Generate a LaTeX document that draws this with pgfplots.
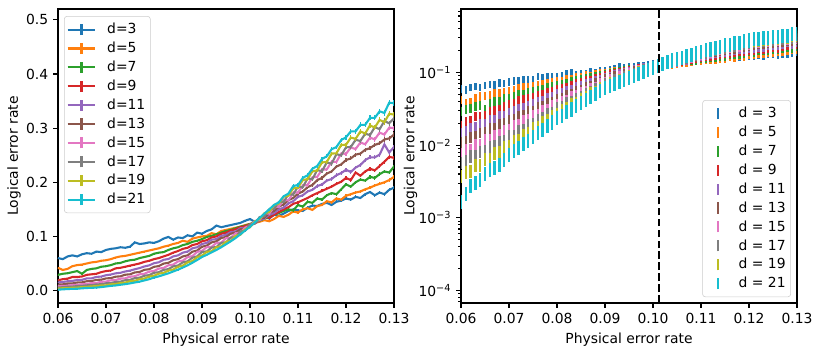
\documentclass[border=0pt]{standalone}
\usepackage{fontspec}
\setmainfont{DejaVu Sans}
\usepackage{pgfplots}
\usepackage{pgfplotstable}
\pgfplotsset{compat=1.18}

\definecolor{C0}{HTML}{1F77B4}
\definecolor{C1}{HTML}{FF7F0E}
\definecolor{C2}{HTML}{2CA02C}
\definecolor{C3}{HTML}{D62728}
\definecolor{C4}{HTML}{9467BD}
\definecolor{C5}{HTML}{8C564B}
\definecolor{C6}{HTML}{E377C2}
\definecolor{C7}{HTML}{7F7F7F}
\definecolor{C8}{HTML}{BCBD22}
\definecolor{C9}{HTML}{17BECF}

% logical error rate vs physical error rate, one column per distance d
\pgfplotstableread{
x     d3    d5    d7    d9    d11    d13    d15    d17    d19    d21
0.060 0.060 0.042 0.029 0.019 0.0150 0.0110 0.0078 0.0058 0.0038 0.0017
0.061 0.058 0.038 0.031 0.021 0.0158 0.0115 0.0087 0.0061 0.0043 0.0022
0.062 0.063 0.040 0.032 0.022 0.0172 0.0130 0.0088 0.0071 0.0044 0.0028
0.063 0.065 0.045 0.034 0.025 0.0178 0.0132 0.0103 0.0072 0.0053 0.0031
0.064 0.063 0.047 0.036 0.025 0.0195 0.0149 0.0104 0.0083 0.0054 0.0034
0.065 0.067 0.048 0.031 0.026 0.0198 0.0152 0.0119 0.0085 0.0064 0.0041
0.066 0.069 0.050 0.038 0.029 0.0224 0.0172 0.0121 0.0097 0.0066 0.0047
0.067 0.068 0.052 0.040 0.030 0.0226 0.0175 0.0138 0.0099 0.0078 0.0050
0.068 0.072 0.053 0.041 0.031 0.0252 0.0197 0.0141 0.0114 0.0080 0.0055
0.069 0.071 0.055 0.044 0.034 0.0258 0.0201 0.0162 0.0117 0.0094 0.0064
0.070 0.075 0.056 0.045 0.036 0.0283 0.0224 0.0166 0.0134 0.0097 0.0075
0.071 0.077 0.058 0.047 0.037 0.0296 0.0230 0.0189 0.0138 0.0115 0.0086
0.072 0.078 0.061 0.050 0.041 0.0318 0.0256 0.0194 0.0160 0.0119 0.0094
0.073 0.080 0.063 0.051 0.042 0.0328 0.0263 0.0221 0.0165 0.0140 0.0107
0.074 0.079 0.064 0.054 0.044 0.0352 0.0293 0.0226 0.0191 0.0147 0.0118
0.075 0.081 0.066 0.056 0.046 0.0368 0.0300 0.0257 0.0199 0.0172 0.0132
0.076 0.089 0.068 0.057 0.048 0.0393 0.0334 0.0265 0.0229 0.0180 0.0149
0.077 0.086 0.070 0.060 0.050 0.0415 0.0344 0.0300 0.0238 0.0210 0.0165
0.078 0.087 0.072 0.062 0.053 0.0445 0.0383 0.0310 0.0274 0.0222 0.0187
0.079 0.089 0.074 0.064 0.055 0.0465 0.0394 0.0350 0.0285 0.0258 0.0210
0.080 0.088 0.076 0.068 0.058 0.0505 0.0438 0.0362 0.0328 0.0274 0.0240
0.081 0.091 0.078 0.070 0.060 0.0522 0.0452 0.0405 0.0339 0.0312 0.0262
0.082 0.096 0.081 0.071 0.063 0.0568 0.0498 0.0418 0.0382 0.0325 0.0290
0.083 0.099 0.083 0.075 0.066 0.0582 0.0512 0.0466 0.0396 0.0370 0.0318
0.084 0.094 0.086 0.078 0.070 0.0630 0.0560 0.0480 0.0446 0.0387 0.0352
0.085 0.098 0.088 0.080 0.073 0.0650 0.0580 0.0537 0.0463 0.0439 0.0386
0.086 0.097 0.092 0.084 0.077 0.0700 0.0630 0.0553 0.0520 0.0460 0.0425
0.087 0.102 0.090 0.086 0.079 0.0720 0.0650 0.0617 0.0541 0.0521 0.0466
0.088 0.100 0.096 0.090 0.084 0.0780 0.0718 0.0637 0.0608 0.0545 0.0514
0.089 0.107 0.098 0.092 0.086 0.0800 0.0740 0.0714 0.0632 0.0618 0.0565
0.090 0.105 0.100 0.095 0.091 0.0860 0.0810 0.0735 0.0714 0.0647 0.0620
0.091 0.110 0.101 0.099 0.093 0.0880 0.0830 0.0802 0.0723 0.0714 0.0660
0.092 0.113 0.106 0.101 0.098 0.0940 0.0890 0.0808 0.0794 0.0727 0.0705
0.093 0.120 0.104 0.104 0.100 0.0950 0.0910 0.0880 0.0804 0.0802 0.0750
0.094 0.117 0.110 0.107 0.105 0.1010 0.0970 0.0887 0.0881 0.0816 0.0800
0.095 0.119 0.112 0.110 0.107 0.1030 0.0990 0.0967 0.0893 0.0901 0.0855
0.096 0.121 0.114 0.112 0.111 0.1080 0.1050 0.0974 0.0979 0.0917 0.0910
0.097 0.123 0.116 0.115 0.113 0.1090 0.1070 0.1060 0.0990 0.1012 0.0970
0.098 0.125 0.118 0.118 0.117 0.1150 0.1130 0.1068 0.1091 0.1029 0.1040
0.099 0.129 0.121 0.120 0.119 0.1160 0.1150 0.1163 0.1107 0.1132 0.1110
0.100 0.132 0.123 0.123 0.122 0.1220 0.1210 0.1188 0.1214 0.1168 0.1180
0.101 0.127 0.125 0.126 0.125 0.1240 0.1240 0.1285 0.1235 0.1275 0.1260
0.102 0.131 0.127 0.129 0.130 0.1300 0.1320 0.1304 0.1357 0.1317 0.1340
0.103 0.136 0.130 0.133 0.138 0.1330 0.1350 0.1418 0.1372 0.1428 0.1420
0.104 0.133 0.128 0.136 0.134 0.1400 0.1430 0.1421 0.1499 0.1450 0.1500
0.105 0.140 0.132 0.140 0.140 0.1430 0.1470 0.1540 0.1509 0.1581 0.1580
0.106 0.138 0.138 0.143 0.145 0.1500 0.1550 0.1548 0.1632 0.1604 0.1630
0.107 0.142 0.136 0.147 0.150 0.1530 0.1590 0.1673 0.1637 0.1734 0.1740
0.108 0.147 0.140 0.150 0.154 0.1610 0.1670 0.1666 0.1775 0.1752 0.1790
0.109 0.150 0.146 0.148 0.160 0.1650 0.1710 0.1805 0.1774 0.1887 0.1930
0.110 0.148 0.144 0.158 0.163 0.1730 0.1790 0.1812 0.1918 0.1901 0.1950
0.111 0.147 0.150 0.155 0.167 0.1760 0.1830 0.1938 0.1911 0.2040 0.2080
0.112 0.153 0.152 0.164 0.171 0.1830 0.1910 0.1950 0.2070 0.2059 0.2130
0.113 0.157 0.149 0.162 0.176 0.1860 0.1950 0.2091 0.2058 0.2200 0.2250
0.114 0.156 0.156 0.170 0.180 0.1930 0.2040 0.2099 0.2224 0.2218 0.2300
0.115 0.160 0.158 0.168 0.184 0.1960 0.2080 0.2234 0.2205 0.2366 0.2430
0.116 0.162 0.165 0.176 0.188 0.2030 0.2160 0.2237 0.2366 0.2376 0.2480
0.117 0.158 0.163 0.180 0.192 0.2060 0.2200 0.2377 0.2343 0.2530 0.2610
0.118 0.164 0.170 0.178 0.197 0.2130 0.2290 0.2376 0.2519 0.2534 0.2650
0.119 0.166 0.168 0.187 0.201 0.2170 0.2330 0.2530 0.2497 0.2690 0.2780
0.120 0.170 0.175 0.196 0.208 0.2230 0.2410 0.2525 0.2646 0.2693 0.2830
0.121 0.168 0.178 0.192 0.204 0.2190 0.2440 0.2642 0.2653 0.2825 0.2940
0.122 0.173 0.181 0.200 0.218 0.2270 0.2510 0.2614 0.2784 0.2802 0.2940
0.123 0.171 0.183 0.205 0.212 0.2320 0.2530 0.2734 0.2762 0.2938 0.3060
0.124 0.178 0.187 0.203 0.220 0.2410 0.2600 0.2703 0.2897 0.2901 0.3060
0.125 0.182 0.190 0.210 0.225 0.2460 0.2630 0.2825 0.2871 0.3050 0.3190
0.126 0.176 0.194 0.208 0.222 0.2460 0.2690 0.2792 0.3019 0.3010 0.3190
0.127 0.181 0.197 0.215 0.230 0.2510 0.2720 0.2917 0.2980 0.3152 0.3310
0.128 0.178 0.200 0.220 0.238 0.2700 0.2790 0.2881 0.3131 0.3109 0.3280
0.129 0.186 0.204 0.218 0.247 0.2550 0.2810 0.3009 0.3089 0.3264 0.3470
0.130 0.190 0.210 0.229 0.245 0.2650 0.2880 0.3000 0.3180 0.3250 0.3460
}\ler

\pgfplotsset{
  panel/.style={
    scale only axis, width=241.92pt, height=211.68pt,
    xmin=0.06, xmax=0.13,
    xtick={0.06,0.07,0.08,0.09,0.10,0.11,0.12,0.13},
    xticklabel style={/pgf/number format/.cd, fixed, fixed zerofill, precision=2},
    /pgf/number format/assume math mode=true,
    tick align=outside, tick pos=left,
    axis line style={line width=0.8pt},
    every tick/.style={black, line width=0.8pt},
    major tick length=3.5pt, minor tick length=2pt,
    xlabel={Physical error rate}, ylabel={Logical error rate},
    legend cell align=left,
    legend style={draw=black!20, rounded corners=2pt, fill=white, fill opacity=0.8, text opacity=1,
      font=\normalsize, row sep=0.5pt, inner xsep=1.6pt, inner ysep=3pt},
  },
  lin/.style={draw=#1, line width=1.5pt, mark=none,
    error bars/y dir=both, error bars/y fixed relative=0.015, error bars/error mark=none,
    error bars/error bar style={draw=#1, line width=1pt},
    legend image code/.code={
      \draw[white, line width=0.01pt] (0pt,0pt) -- (26.5pt,0pt);
      \draw[draw=#1, line width=1.5pt] (0pt,0pt) -- (20pt,0pt);
      \draw[draw=#1, line width=1.5pt] (10pt,-4pt) -- (10pt,4pt);}},
  bar/.style n args={2}{draw=none, mark=none,
    error bars/y dir=both, error bars/y fixed relative=#2, error bars/error mark=none,
    error bars/error bar style={draw=#1, solid, line width=1.6pt},
    legend image code/.code={
      \draw[white, line width=0.01pt] (0pt,0pt) -- (22.4pt,0pt);
      \draw[draw=#1, line width=1.6pt] (9.4pt,-4pt) -- (9.4pt,4pt);}},
}

\begin{document}
\begin{tikzpicture}
\useasboundingbox (-41.76pt,-36.72pt) rectangle (550.08pt,218.16pt);

\begin{axis}[panel, at={(0pt,0pt)},
  ymin=-0.023, ymax=0.52,
  ytick={0,0.1,0.2,0.3,0.4,0.5},
  yticklabel style={/pgf/number format/.cd, fixed, fixed zerofill, precision=1},
  ylabel shift=-3pt,
  legend style={at={(0.018,0.976)}, anchor=north west},
]
\addplot[lin=C0] table[x=x, y=d3]  {\ler}; \addlegendentry{d=3}
\addplot[lin=C1] table[x=x, y=d5]  {\ler}; \addlegendentry{d=5}
\addplot[lin=C2] table[x=x, y=d7]  {\ler}; \addlegendentry{d=7}
\addplot[lin=C3] table[x=x, y=d9]  {\ler}; \addlegendentry{d=9}
\addplot[lin=C4] table[x=x, y=d11] {\ler}; \addlegendentry{d=11}
\addplot[lin=C5] table[x=x, y=d13] {\ler}; \addlegendentry{d=13}
\addplot[lin=C6] table[x=x, y=d15] {\ler}; \addlegendentry{d=15}
\addplot[lin=C7] table[x=x, y=d17] {\ler}; \addlegendentry{d=17}
\addplot[lin=C8] table[x=x, y=d19] {\ler}; \addlegendentry{d=19}
\addplot[lin=C9] table[x=x, y=d21] {\ler}; \addlegendentry{d=21}
\end{axis}

\begin{axis}[panel, at={(290.16pt,0pt)},
  ymode=log, ymin=6.7e-5, ymax=0.75,
  ytick={1e-4,1e-3,1e-2,1e-1},
  yticklabels={10\textsuperscript{−4},10\textsuperscript{−3},10\textsuperscript{−2},10\textsuperscript{−1}},
  minor ytick={7e-5,8e-5,9e-5,2e-4,3e-4,4e-4,5e-4,6e-4,7e-4,8e-4,9e-4,
    2e-3,3e-3,4e-3,5e-3,6e-3,7e-3,8e-3,9e-3,2e-2,3e-2,4e-2,5e-2,6e-2,7e-2,8e-2,9e-2,
    2e-1,3e-1,4e-1,5e-1,6e-1,7e-1},
  ylabel shift=-6pt,
  legend style={at={(0.982,0.02)}, anchor=south east},
]
\addplot[bar={C0}{0.12}] table[x=x, y=d3]  {\ler}; \addlegendentry{d = 3}
\addplot[bar={C1}{0.13}] table[x=x, y=d5]  {\ler}; \addlegendentry{d = 5}
\addplot[bar={C2}{0.14}] table[x=x, y=d7]  {\ler}; \addlegendentry{d = 7}
\addplot[bar={C3}{0.15}] table[x=x, y=d9]  {\ler}; \addlegendentry{d = 9}
\addplot[bar={C4}{0.16}] table[x=x, y=d11] {\ler}; \addlegendentry{d = 11}
\addplot[bar={C5}{0.17}] table[x=x, y=d13] {\ler}; \addlegendentry{d = 13}
\addplot[bar={C6}{0.18}] table[x=x, y=d15] {\ler}; \addlegendentry{d = 15}
\addplot[bar={C7}{0.19}] table[x=x, y=d17] {\ler}; \addlegendentry{d = 17}
\addplot[bar={C8}{0.20}] table[x=x, y=d19] {\ler}; \addlegendentry{d = 19}
\addplot[bar={C9}{0.22}] table[x=x, y=d21] {\ler}; \addlegendentry{d = 21}
\addplot[black, line width=1.5pt, dash pattern=on 5.5pt off 2.4pt, forget plot]
  coordinates {(0.1012,6.7e-5) (0.1012,0.75)};
\end{axis}
\end{tikzpicture}
\end{document}
